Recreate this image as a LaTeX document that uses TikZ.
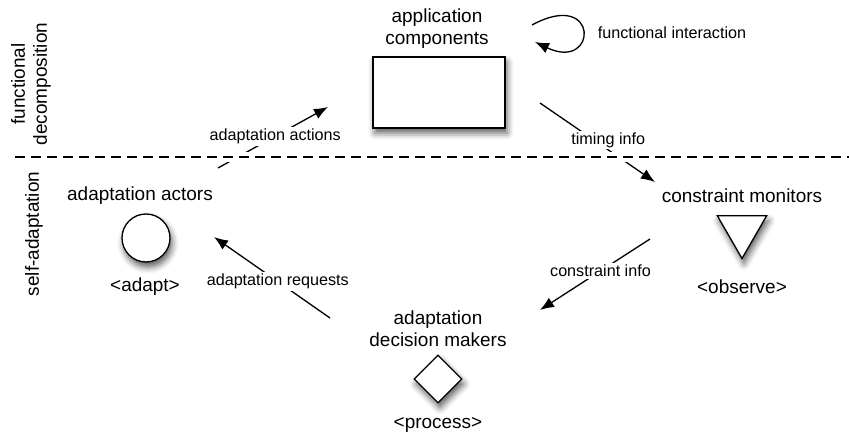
\documentclass[tikz,border=0pt]{standalone}
\usepackage{fontspec}
\setmainfont{Liberation Sans}
\usetikzlibrary{arrows.meta,shapes.geometric,shadows.blur}

\begin{document}
\begin{tikzpicture}[x=0.2mm,y=-0.2mm,
    shade/.style={blur shadow={shadow xshift=0.4mm,shadow yshift=-1mm,shadow blur radius=1.3mm,shadow opacity=65}},
    part/.style={draw,fill=white,line width=0.75pt,inner sep=0,shade},
    flow/.style={line width=0.75pt,-{Latex[length=2.8mm,width=2.2mm]}},
    flowlabel/.style={fill=white,inner sep=1pt,font=\labelfontsize},
    title/.style={align=center,font=\titlefontsize}]
    \providecommand{\titlefontsize}{\fontsize{10.8}{12.6}\selectfont}
    \providecommand{\labelfontsize}{\fontsize{9.2}{11}\selectfont}
    \pgfmathsetmacro{\splity}{157}
    \useasboundingbox (0,0) rectangle (849,435);

    \node[title,rotate=90] (fdname) at (31,84) {functional\\decomposition};
    \node[title,rotate=90] (saname) at (34,234) {self-adaptation};

    % the application itself
    \node[title] (appname) at (437,29) {application\\components};
    \node[part,rectangle,minimum width=26.4mm,minimum height=14.2mm] (app) at (439,92.5) {};
    \node[font=\labelfontsize] (finame) at (672,33) {functional interaction};

    \node[title] (actname) at (140,196) {adaptation actors};
    \node[part,circle,minimum size=9.6mm] (actor) at (146,238) {};
    \node[title] (actrole) at (145,287) {<adapt>};

    \node[title] (monname) at (742,196) {constraint monitors};
    \node[part,regular polygon,regular polygon sides=3,shape border rotate=180,minimum size=11.4mm] (monitor) at (742,230) {};
    \node[title] (monrole) at (742,287) {<observe>};

    \node[title] (decname) at (438,329) {adaptation\\decision makers};
    \node[part,diamond,minimum width=9.6mm,minimum height=9.6mm] (decider) at (438,379) {};
    \node[title] (decrole) at (438,425) {<process>};

    \coordinate (fi1) at (532,25);  \coordinate (fi2) at (535,42);
    \coordinate (aa1) at (218,168); \coordinate (aa2) at (328,107);
    \coordinate (ti1) at (540,103); \coordinate (ti2) at (655,182);
    \coordinate (ci1) at (650,239); \coordinate (ci2) at (540,310);
    \coordinate (ar1) at (330,318); \coordinate (ar2) at (214,237);
    \draw[flow] (fi1) .. controls (600,-12) and (598,72) .. (fi2);
    \draw[flow] (aa1) -- node[flowlabel,pos=0.52] (aaname) {adaptation actions} (aa2);
    \draw[flow] (ti1) -- node[flowlabel,pos=0.55,xshift=1mm,yshift=1.3mm] (tiname) {timing info} (ti2);
    \draw[flow] (ci1) -- node[flowlabel,pos=0.45] (ciname) {constraint info} (ci2);
    \draw[flow] (ar1) -- node[flowlabel,pos=0.45] (arname) {adaptation requests} (ar2);

    % border between the two layers
    \coordinate (split1) at (15,\splity); \coordinate (split2) at (849,\splity);
    \draw[line width=0.75pt,dash pattern=on 2mm off 1.2mm,preaction={draw=white,solid,line width=2mm}] (split1) -- (split2);
\end{tikzpicture}
\end{document}
